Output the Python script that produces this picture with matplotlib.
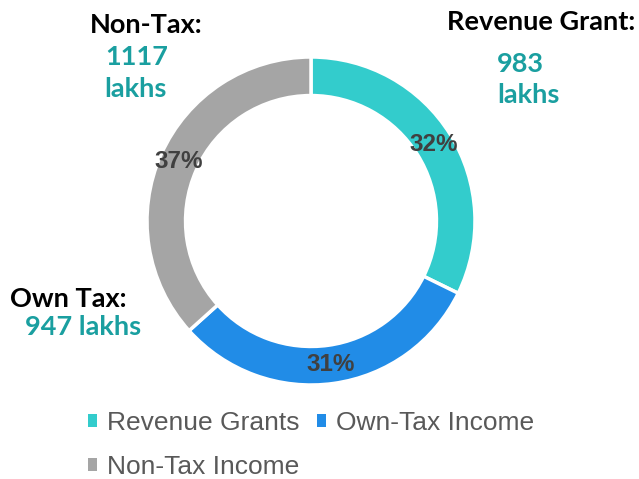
import matplotlib
matplotlib.use('Agg')
from matplotlib import pyplot as plt
from matplotlib.patches import Patch

# income sources (lakhs)
categories = ['Revenue Grants', 'Own-Tax Income', 'Non-Tax Income']
values = [983, 947, 1117]
short_names = ['Revenue Grant:', 'Own Tax:', 'Non-Tax:']
colors = ['#33CCCC', '#218CE7', '#A5A5A5']

W, H = 639, 479
fig = plt.figure(figsize=(W / 100, H / 100), dpi=100)

# donut: centre (311, 221) px, outer radius 164 px
cx, cy, r = 311, 221, 164
ax = fig.add_axes([(cx - r) / W, 1 - (cy + r) / H, 2 * r / W, 2 * r / H])
wedges, texts, autotexts = ax.pie(
    values, colors=colors, startangle=90, counterclock=False,
    autopct='%1.0f%%', pctdistance=0.885, radius=1,
    wedgeprops=dict(width=0.235, edgecolor='white', linewidth=2.5),
    textprops=dict(color='#404040', fontsize=17.5, fontweight='bold',
                   family='Liberation Sans'))
ax.set_xlim(-1, 1)
ax.set_ylim(-1, 1)
ax.set_aspect('equal')
ax.axis('off')

# side annotations
teal = '#1A9FA0'
ann = dict(family='Lato', fontweight='bold', fontsize=19.5)
def px(x, y):
    return x / W, 1 - y / H

fig.text(*px(447, 30), short_names[0], color='black', va='baseline', **ann)
fig.text(*px(497, 72), str(values[0]), color=teal, va='baseline', **ann)
fig.text(*px(497, 103), 'lakhs', color=teal, va='baseline', **ann)

fig.text(*px(90, 33), short_names[2], color='black', va='baseline', **ann)
fig.text(*px(105, 65), str(values[2]), color=teal, va='baseline', **ann)
fig.text(*px(104, 97), 'lakhs', color=teal, va='baseline', **ann)

fig.text(*px(10, 307), short_names[1], color='black', va='baseline', **ann)
fig.text(*px(25, 335), '%d lakhs' % values[1], color=teal, va='baseline', **ann)

# legend, row-major order
order = [0, 2, 1]
handles = [Patch(facecolor=colors[i], edgecolor='none') for i in order]
leg = fig.legend(handles, [categories[i] for i in order],
                 ncol=2, loc='upper left', bbox_to_anchor=(88 / W, 1 - 411 / H),
                 frameon=False, borderpad=0, borderaxespad=0,
                 handlelength=0.34, handleheight=0.34,
                 handletextpad=0.38, columnspacing=0.68, labelspacing=0.76,
                 prop=dict(family='Liberation Sans', size=19))
for t in leg.get_texts():
    t.set_color('#595959')

fig.savefig('out.png', dpi=100)
